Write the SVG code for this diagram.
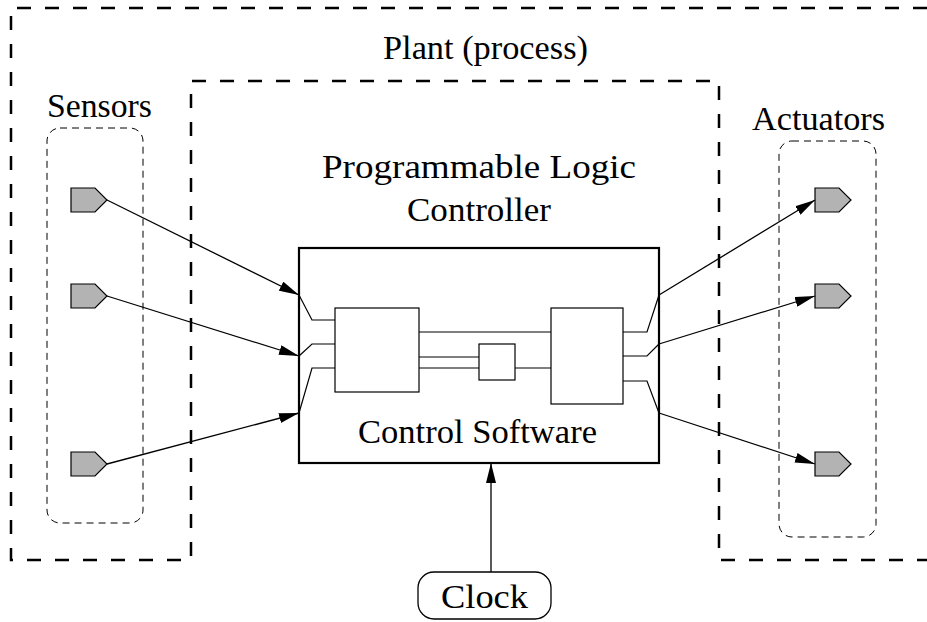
<svg xmlns="http://www.w3.org/2000/svg" width="927" height="622" viewBox="0 0 927 622">
<style>
.bound{fill:none;stroke:#000;stroke-width:2.5;stroke-dasharray:14,14}
.group{fill:none;stroke:#000;stroke-width:1;stroke-dasharray:7,5}
.port{fill:#b3b3b3;stroke:#000;stroke-width:1.2}
.blk{fill:#fff;stroke:#000;stroke-width:1.2}
.wire{fill:none;stroke:#000;stroke-width:1.2}
.conn{fill:none;stroke:#000;stroke-width:1.3}
text{font-family:"Liberation Serif","Times New Roman",serif;font-size:34px;fill:#000;text-anchor:middle}
</style>
<defs>
<marker id="arr" viewBox="0 0 20 10" refX="20" refY="5" markerWidth="20" markerHeight="10" markerUnits="userSpaceOnUse" orient="auto">
<path d="M0,0 L20,5 L0,10 Z" fill="#000"/>
</marker>
</defs>
<g id="plant">
<path class="bound" d="M927,8 L11,8 L11,560 L191,560 L191,81 L719,81 L719,560 L927,560"/>
<text x="485.5" y="59" textLength="205" lengthAdjust="spacingAndGlyphs">Plant (process)</text>
</g>
<g id="sensors">
<rect class="group" x="47" y="128" width="96" height="395" rx="13"/>
<text x="99.5" y="117" textLength="105" lengthAdjust="spacingAndGlyphs">Sensors</text>
<polygon class="port" points="71,188 95,188 107,200 95,212 71,212"/>
<polygon class="port" points="71,284 95,284 107,296 95,308 71,308"/>
<polygon class="port" points="71,452 95,452 107,464 95,476 71,476"/>
</g>
<g id="actuators">
<rect class="group" x="779" y="141" width="97" height="396" rx="13"/>
<text x="818.5" y="130" textLength="133" lengthAdjust="spacingAndGlyphs">Actuators</text>
<polygon class="port" points="815,188 839,188 851,200 839,212 815,212"/>
<polygon class="port" points="815,284 839,284 851,296 839,308 815,308"/>
<polygon class="port" points="815,452 839,452 851,464 839,476 815,476"/>
</g>
<g id="plc">
<text x="479" y="178" textLength="314" lengthAdjust="spacingAndGlyphs">Programmable Logic</text>
<text x="479" y="221" textLength="144" lengthAdjust="spacingAndGlyphs">Controller</text>
<rect x="299" y="248" width="360" height="215" fill="#fff" stroke="#000" stroke-width="2.2"/>
<g id="software">
<path class="wire" d="M299,295 L312,320 L335,320 M299,356 L312,344 L335,344 M299,413 L312,368 L335,368"/>
<path class="wire" d="M419,332 L551,332 M419,357 L479,357 M419,368 L479,368 M515,368 L551,368"/>
<path class="wire" d="M623,332 L647,332 L659,295 M623,356 L647,356 L659,344 M623,381 L647,381 L659,413"/>
<rect class="blk" x="335" y="308" width="84" height="84"/>
<rect class="blk" x="479" y="344" width="36" height="36"/>
<rect class="blk" x="551" y="308" width="72" height="96"/>
<text x="477.5" y="443" textLength="239" lengthAdjust="spacingAndGlyphs">Control Software</text>
</g>
</g>
<g id="clock">
<rect x="418" y="572" width="133" height="47" rx="16" fill="#fff" stroke="#000" stroke-width="1.3"/>
<text x="484.5" y="608" textLength="87" lengthAdjust="spacingAndGlyphs">Clock</text>
</g>
<g id="connectors">
<line class="conn" x1="107" y1="200" x2="299" y2="295" marker-end="url(#arr)"/>
<line class="conn" x1="107" y1="296" x2="299" y2="356" marker-end="url(#arr)"/>
<line class="conn" x1="107" y1="464" x2="299" y2="413" marker-end="url(#arr)"/>
<line class="conn" x1="659" y1="295" x2="815" y2="200" marker-end="url(#arr)"/>
<line class="conn" x1="659" y1="344" x2="815" y2="296" marker-end="url(#arr)"/>
<line class="conn" x1="659" y1="413" x2="815" y2="464" marker-end="url(#arr)"/>
<line class="conn" x1="491" y1="572" x2="491" y2="463" marker-end="url(#arr)"/>
</g>
</svg>
